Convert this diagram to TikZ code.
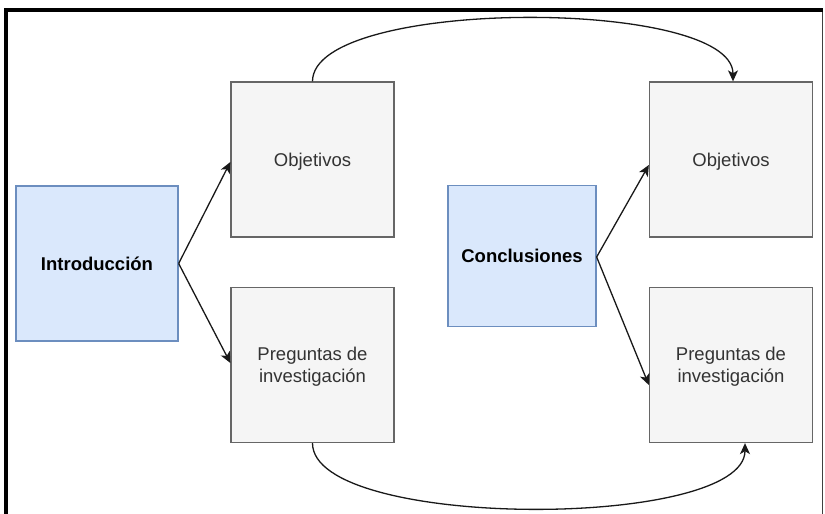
\documentclass[tikz,border=0pt]{standalone}
\usepackage{fontspec}
\setmainfont{Liberation Sans}
\usetikzlibrary{arrows.meta}
\definecolor{bluefill}{HTML}{DAE8FC}
\definecolor{bluedraw}{HTML}{6C8EBF}
\definecolor{greyfill}{HTML}{F5F5F5}
\definecolor{greydraw}{HTML}{666666}
\definecolor{greytext}{HTML}{333333}
\begin{document}
\begin{tikzpicture}[x=1pt,y=-1pt,
  txt/.style={font=\fontsize{18.5}{22}\selectfont, align=center, text depth=0pt},
  mainbox/.style={txt, rectangle, draw=bluedraw, fill=bluefill, line width=1.3pt,
    inner sep=0pt, font=\fontsize{18.5}{22}\selectfont\bfseries},
  subbox/.style={txt, rectangle, draw=greydraw, fill=greyfill, line width=1.3pt,
    inner sep=0pt, text=greytext, minimum width=163pt, minimum height=155pt},
  arr/.style={draw=black!90, line width=1.3pt, -{Stealth[length=11pt,width=10pt,inset=3pt]}}]
  \useasboundingbox (0,0) rectangle (825,514);
  % frame
  \draw[line width=4pt] (4,10) -- (823,10);
  \draw[line width=4pt] (6,8) -- (6,514);
  \draw[black!75, line width=1.5pt] (822.5,12) -- (822.5,514);

  % left group
  \node[mainbox, minimum width=162pt, minimum height=155pt] (intro) at (97,263.5) {Introducción};
  \node[subbox] (obj1) at (312.5,159.5) {Objetivos};
  \node[subbox] (preg1) at (312.5,365) {Preguntas de\\investigación};

  % right group
  \node[mainbox, minimum width=148pt, minimum height=141pt] (concl) at (522,256) {Conclusiones};
  \node[subbox] (obj2) at (731,159.5) {Objetivos};
  \node[subbox] (preg2) at (731,365) {Preguntas de\\investigación};

  % straight connectors
  \draw[arr] (intro.east) -- ([yshift=-2.5pt]obj1.west);
  \draw[arr] (intro.east) -- ([yshift=2pt]preg1.west);
  \draw[arr] ([yshift=-1pt]concl.east) -- ([yshift=-5.5pt]obj2.west);
  \draw[arr] ([yshift=-1pt]concl.east) -- ([yshift=-20pt]preg2.west);

  % curved connectors between the two groups
  \draw[arr] (obj1.north) .. controls +(0,-84) and +(0,-84) .. ([xshift=2pt]obj2.north);
  \draw[arr] (preg1.south) .. controls +(0,87) and +(0,87) .. ([xshift=14pt]preg2.south);
\end{tikzpicture}
\end{document}
